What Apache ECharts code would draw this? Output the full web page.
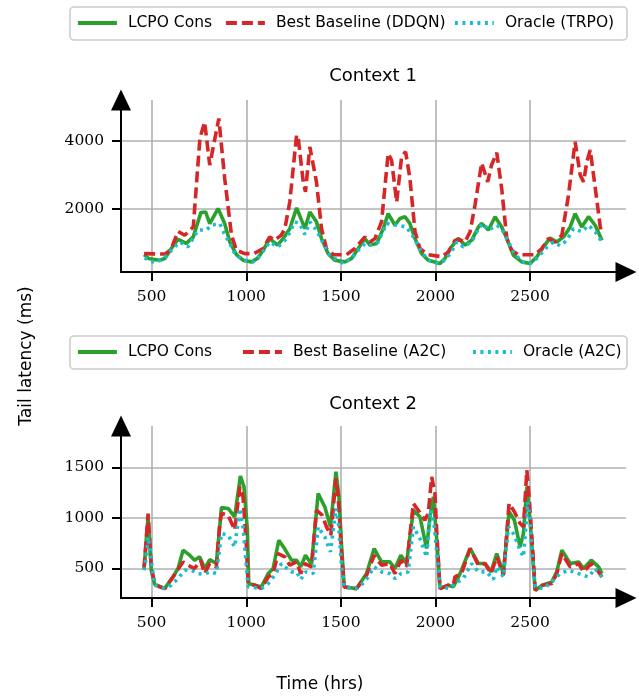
<!DOCTYPE html>
<html>
<head>
<meta charset="utf-8">
<script src="https://cdn.jsdelivr.net/npm/echarts@6/dist/echarts.min.js"></script>
<style>
  html, body { margin: 0; padding: 0; background: #fff; }
  #chart { width: 639px; height: 698px; }
</style>
</head>
<body>
<div id="chart"></div>
<script>
// tick values
const xTicks = [500, 1000, 1500, 2000, 2500];
const ctx1YTicks = [2000, 4000];
const ctx2YTicks = [500, 1000, 1500];

// Context 1: [time (hrs), tail latency (ms)]
const ctx1Lcpo = [[460,670],[483,560],[542,510],[570,560],[604,850],[640,1120],[683,1000],[720,1190],[760,1900],[785,1920],[807,1580],[851,2020],[886,1580],[913,1040],[948,670],[983,510],[1027,460],[1060,560],[1089,800],[1124,1140],[1165,950],[1195,1140],[1230,1430],[1266,2040],[1310,1430],[1336,1920],[1371,1630],[1398,1140],[1433,700],[1468,510],[1521,460],[1557,560],[1592,850],[1627,1140],[1654,950],[1689,1000],[1724,1430],[1750,1870],[1786,1530],[1812,1730],[1839,1780],[1865,1580],[1892,1140],[1927,700],[1962,510],[2024,410],[2050,560],[2085,900],[2120,1150],[2156,950],[2191,1090],[2227,1480],[2244,1580],[2280,1390],[2315,1780],[2350,1480],[2377,1140],[2412,650],[2456,460],[2500,410],[2535,600],[2571,900],[2606,1160],[2641,1040],[2677,1190],[2712,1480],[2738,1870],[2773,1480],[2809,1780],[2844,1530],[2880,1090]];
const ctx1Baseline = [[460,700],[570,690],[600,800],[640,1350],[675,1240],[720,1480],[755,4070],[780,4550],[807,3290],[855,4650],[886,2900],[922,1240],[948,800],[992,700],[1040,700],[1089,850],[1124,1190],[1150,1090],[1185,1240],[1204,1430],[1230,2210],[1266,4170],[1275,4070],[1301,2800],[1313,2510],[1336,3820],[1345,3870],[1371,2800],[1398,1430],[1424,850],[1460,670],[1530,670],[1574,850],[1627,1190],[1654,1040],[1680,1140],[1715,1630],[1750,3630],[1768,3430],[1795,2210],[1821,3530],[1842,3680],[1865,2900],[1892,1340],[1918,850],[1962,670],[2033,610],[2068,750],[2103,1090],[2130,1100],[2156,1040],[2183,1340],[2209,2120],[2244,3350],[2276,2800],[2297,3300],[2324,3650],[2350,2600],[2377,1140],[2403,800],[2438,670],[2526,670],[2562,850],[2597,1140],[2632,1040],[2668,1240],[2703,2410],[2738,3970],[2765,3000],[2783,2800],[2800,3390],[2818,3730],[2845,2600],[2871,1480],[2880,1290]];
const ctx1Oracle = [[463,580],[516,440],[560,540],[604,800],[648,1040],[692,900],[745,1390],[789,1390],[816,1530],[860,1580],[886,1260],[913,1000],[939,700],[983,510],[1036,460],[1080,700],[1124,1040],[1168,900],[1213,1140],[1257,1630],[1283,1580],[1310,1260],[1336,1630],[1371,1390],[1407,1000],[1442,650],[1512,410],[1556,560],[1592,800],[1627,1000],[1654,950],[1697,1040],[1742,1580],[1795,1530],[1847,1480],[1883,1190],[1927,750],[1962,510],[2015,410],[2050,510],[2085,750],[2112,1040],[2147,900],[2191,1040],[2227,1430],[2253,1580],[2280,1390],[2324,1530],[2350,1430],[2377,1140],[2412,750],[2456,460],[2500,410],[2544,600],[2580,850],[2623,1040],[2659,930],[2694,1090],[2729,1430],[2773,1340],[2809,1530],[2844,1340],[2880,1040]];

// Context 2
const ctx2Lcpo = [[460,500],[481,1010],[498,480],[516,340],[569,300],[613,414],[640,500],[666,680],[701,630],[727,580],[754,613],[780,497],[807,586],[842,547],[869,1103],[904,1093],[939,1010],[969,1414],[988,1308],[1006,878],[1013,348],[1080,315],[1116,447],[1142,497],[1172,778],[1204,690],[1239,580],[1266,580],[1288,514],[1313,629],[1345,540],[1380,1242],[1415,1109],[1445,911],[1474,1457],[1490,1209],[1504,712],[1518,315],[1583,298],[1636,447],[1676,696],[1715,563],[1759,563],[1786,497],[1817,629],[1847,547],[1883,1076],[1918,1010],[1953,696],[1971,1010],[1989,1209],[2011,679],[2024,298],[2068,332],[2094,315],[2130,447],[2138,464],[2183,696],[2227,547],[2262,547],[2294,464],[2324,646],[2359,447],[2389,1060],[2417,977],[2447,712],[2465,845],[2483,1308],[2500,977],[2513,646],[2527,282],[2565,332],[2615,365],[2641,464],[2668,679],[2712,547],[2756,563],[2783,497],[2823,580],[2862,514],[2880,447]];
const ctx2Baseline = [[460,497],[481,1043],[498,514],[516,348],[542,315],[569,298],[613,414],[648,514],[666,563],[692,530],[727,497],[759,580],[780,447],[807,547],[842,514],[860,944],[869,1043],[904,1027],[939,878],[966,1308],[983,1209],[1001,712],[1010,348],[1045,332],[1080,298],[1116,414],[1142,447],[1168,646],[1204,613],[1230,530],[1266,563],[1288,447],[1310,547],[1345,514],[1371,1076],[1401,1027],[1424,911],[1447,828],[1474,1391],[1486,1209],[1504,646],[1518,315],[1583,298],[1636,431],[1676,629],[1715,530],[1759,547],[1786,447],[1817,580],[1847,514],[1883,1143],[1909,1076],[1944,977],[1962,1043],[1980,1407],[1997,1242],[2011,712],[2024,298],[2068,332],[2094,332],[2103,414],[2138,447],[2183,696],[2227,530],[2262,547],[2294,447],[2324,613],[2359,431],[2389,1143],[2417,1060],[2447,944],[2465,911],[2483,1474],[2495,1209],[2513,712],[2527,282],[2565,332],[2615,348],[2641,447],[2668,646],[2712,514],[2756,547],[2783,464],[2823,547],[2862,464],[2880,414]];
const ctx2Oracle = [[460,480],[472,613],[481,811],[490,712],[502,514],[516,332],[569,300],[604,332],[639,398],[675,480],[710,480],[745,447],[771,441],[815,464],[842,447],[869,845],[904,828],[939,712],[966,1093],[983,911],[1001,514],[1010,315],[1080,300],[1116,348],[1151,431],[1186,547],[1204,514],[1239,464],[1266,464],[1288,388],[1313,464],[1354,447],[1380,911],[1415,812],[1445,663],[1474,1093],[1486,977],[1504,514],[1518,315],[1583,300],[1627,365],[1676,514],[1715,464],[1759,447],[1786,398],[1817,447],[1856,464],[1883,911],[1918,795],[1953,613],[1974,1076],[1992,944],[2011,580],[2024,315],[2077,300],[2103,348],[2147,398],[2191,547],[2227,464],[2271,464],[2306,388],[2324,514],[2359,414],[2386,911],[2417,828],[2447,679],[2465,613],[2488,1159],[2500,977],[2513,580],[2527,315],[2571,298],[2615,365],[2659,447],[2703,480],[2756,447],[2809,414],[2844,497],[2880,414]];

const GREEN = "#2ca02c";
const RED = "#d62728";
const CYAN = "#17becf";
const SANS = "DejaVu Sans";
const SERIF = "DejaVu Serif";

const chart = echarts.init(document.getElementById("chart"), null, { renderer: "canvas" });

const plainNumber = (value) => String(value);

const xAxisFor = (gridIndex) => ({
    type: "value",
    gridIndex,
    min: 338,
    max: 3007,
    axisLine: { show: true, lineStyle: { color: "#000", width: 2 }, symbol: ["none", "triangle"], symbolSize: [20, 21] },
    axisTick: { show: true, length: 9, lineStyle: { color: "#000", width: 2 }, customValues: xTicks },
    axisLabel: { margin: 17, color: "#000", fontFamily: SERIF, fontSize: 15.5, customValues: xTicks, formatter: plainNumber },
    splitLine: { show: true, lineStyle: { color: "#b0b0b0", width: 1.6 } }
});

const yAxisFor = (gridIndex, min, max, ticks) => ({
    type: "value",
    gridIndex,
    min,
    max,
    axisLine: { show: true, lineStyle: { color: "#000", width: 2 }, symbol: ["none", "triangle"], symbolSize: [20, 21] },
    axisTick: { show: true, length: 9, lineStyle: { color: "#000", width: 2 }, customValues: ticks },
    axisLabel: { margin: 17, color: "#000", fontFamily: SERIF, fontSize: 15.5, customValues: ticks, formatter: plainNumber },
    splitLine: { show: true, lineStyle: { color: "#b0b0b0", width: 1.6 } }
});

const lineSeries = (name, data, idx, color, type) => ({
    name,
    type: "line",
    xAxisIndex: idx,
    yAxisIndex: idx,
    data,
    symbol: "none",
    animation: false,
    lineStyle: { color, width: 3.6, type, cap: "butt" },
    itemStyle: { color }
});

const legendItem = (name, left, top) => ({
    data: [name],
    left,
    top,
    itemWidth: 39,
    itemHeight: 14,
    padding: 0,
    selectedMode: false,
    itemStyle: { opacity: 0 },
    lineStyle: { width: 3.8 },
    textStyle: { fontFamily: SANS, fontSize: 15.5, color: "#000", padding: [0, 0, 0, 6] }
});

const frame = (y) => ({
    type: "rect",
    z: -1,
    shape: { x: 70, y, width: 557, height: 33, r: 4 },
    style: { fill: "#fff", stroke: "#cccccc", lineWidth: 1.6 }
});

const label = (text, x, y, size, rotation) => ({
    type: "text",
    x,
    y,
    rotation: rotation || 0,
    style: { text, fontFamily: SANS, fontSize: size, fill: "#000", align: "center", verticalAlign: "middle" }
});

chart.setOption({
    backgroundColor: "#fff",
    animation: false,
    grid: [
        { left: 121, right: 13, top: 100, height: 172 },
        { left: 121, right: 13, top: 426, height: 172 }
    ],
    xAxis: [xAxisFor(0), xAxisFor(1)],
    yAxis: [
        yAxisFor(0, 164, 5192, ctx1YTicks),
        yAxisFor(1, 205, 1911, ctx2YTicks)
    ],
    legend: [
        legendItem("LCPO Cons", 76, 15),
        legendItem("Best Baseline (DDQN)", 224, 15),
        legendItem("Oracle (TRPO)", 453, 15),
        legendItem("LCPO Cons", 76, 344),
        legendItem("Best Baseline (A2C)", 241, 344),
        legendItem("Oracle (A2C)", 471, 344)
    ],
    graphic: [
        frame(7),
        frame(336),
        label("Context 1", 373, 76, 18),
        label("Context 2", 373, 404, 18),
        label("Time (hrs)", 320, 685, 17),
        label("Tail latency (ms)", 27, 356, 17, Math.PI / 2)
    ],
    series: [
        lineSeries("LCPO Cons", ctx1Lcpo, 0, GREEN, "solid"),
        lineSeries("Best Baseline (DDQN)", ctx1Baseline, 0, RED, [11, 5]),
        lineSeries("Oracle (TRPO)", ctx1Oracle, 0, CYAN, [3, 4.5]),
        lineSeries("LCPO Cons", ctx2Lcpo, 1, GREEN, "solid"),
        lineSeries("Best Baseline (A2C)", ctx2Baseline, 1, RED, [11, 5]),
        lineSeries("Oracle (A2C)", ctx2Oracle, 1, CYAN, [3, 4.5])
    ]
});
</script>
</body>
</html>
